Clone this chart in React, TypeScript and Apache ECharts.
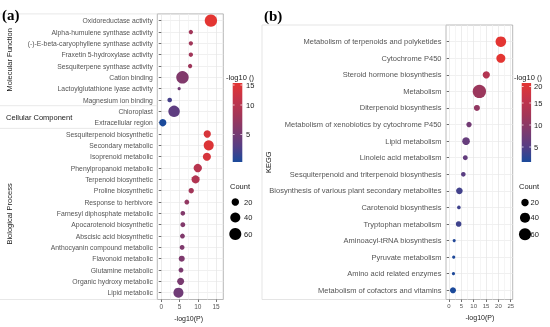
import React, { useEffect, useRef } from "react";
import * as echarts from "echarts";

// ---------- data ----------
const leftCategories = [
  "Oxidoreductase activity",
  "Alpha-humulene synthase activity",
  "(-)-E-beta-caryophyllene synthase activity",
  "Fraxetin 5-hydroxylase activity",
  "Sesquiterpene synthase activity",
  "Cation binding",
  "Lactoylglutathione lyase activity",
  "Magnesium ion binding",
  "Chloroplast",
  "Extracellular region",
  "Sesquiterpenoid biosynthetic",
  "Secondary metabolic",
  "Isoprenoid metabolic",
  "Phenylpropanoid metabolic",
  "Terpenoid biosynthetic",
  "Proline biosynthetic",
  "Response to herbivore",
  "Farnesyl diphosphate metabolic",
  "Apocarotenoid biosynthetic",
  "Abscisic acid biosynthetic",
  "Anthocyanin compound metabolic",
  "Flavonoid metabolic",
  "Glutamine metabolic",
  "Organic hydroxy metabolic",
  "Lipid metabolic",
];
const leftLogP = [13.6, 8.1, 8.1, 8.1, 7.9, 5.8, 4.9, 2.3, 3.5, 0.4, 12.6, 13.0, 12.5, 10.0, 9.4, 8.2, 7.0, 5.9, 5.9, 5.8, 5.7, 5.6, 5.4, 5.3, 4.7];
const leftCount = [63, 5, 5, 5, 5, 65, 2, 6, 54, 19, 19, 40, 24, 26, 24, 9, 7, 6, 7, 7, 7, 12, 7, 17, 40];
const leftGroups = [
  { name: "Molecular Function", from: 0, to: 7, rotate: true },
  { name: "Cellular Component", from: 8, to: 9, rotate: false },
  { name: "Biological Process", from: 10, to: 24, rotate: true },
];

const rightCategories = [
  "Metabolism of terpenoids and polyketides",
  "Cytochrome P450",
  "Steroid hormone biosynthesis",
  "Metabolism",
  "Diterpenoid biosynthesis",
  "Metabolism of xenobiotics by cytochrome P450",
  "Lipid metabolism",
  "Linoleic acid metabolism",
  "Sesquiterpenoid and triterpenoid biosynthesis",
  "Biosynthesis of various plant secondary metabolites",
  "Carotenoid biosynthesis",
  "Tryptophan metabolism",
  "Aminoacyl-tRNA biosynthesis",
  "Pyruvate metabolism",
  "Amino acid related enzymes",
  "Metabolism of cofactors and vitamins",
];
const rightLogP = [21.0, 21.0, 15.1, 12.3, 11.3, 8.1, 6.9, 6.6, 5.8, 4.2, 4.0, 3.9, 2.1, 1.9, 1.8, 1.6];
const rightCount = [45, 31, 19, 75, 12, 9, 21, 7, 6, 15, 3, 10, 2, 2, 2, 12];

const leftColorTicks = ["15", "10", "5"];
const rightColorTicks = ["20", "15", "10", "5"];
const countTicks = [20, 40, 60];

// ---------- style ----------
const FONT = "'Liberation Sans', Arial, sans-serif";
const SERIF = "'Liberation Serif', 'Times New Roman', serif";
const COLORS = ["#1b4a9b", "#573e84", "#7f3a6d", "#a43657", "#c4344a", "#e33532"];
const TXT = "#555555";
const DARK = "#1a1a1a";

const dotSize = (c: number) => 1.2 + 1.4 * Math.sqrt(c);

type Panel = {
  boxL: number; boxR: number; boxT: number; boxB: number;
  rowT: number; rowB: number; xMin: number; xMax: number; gMax: number;
  labelSize: number; tickSize: number;
};
const LP: Panel = { boxL: 157.3, boxR: 223.3, boxT: 13.9, boxB: 299.5, rowT: 20.7, rowB: 292.7, xMin: -1.1, xMax: 17.0, gMax: 15, labelSize: 6.8, tickSize: 6.5 };
const RP: Panel = { boxL: 446, boxR: 512.7, boxT: 25, boxB: 299.5, rowT: 41.7, rowB: 290.3, xMin: -1.22, xMax: 25.8, gMax: 25, labelSize: 7.5, tickSize: 6 };

const px = (p: Panel, v: number) => p.boxL + ((v - p.xMin) / (p.xMax - p.xMin)) * (p.boxR - p.boxL);

function buildPanel(p: Panel, k: number, cats: string[], vals: number[], counts: number[]) {
  const gi = k * 3;
  const grids = [
    { left: p.boxL, top: p.boxT, width: p.boxR - p.boxL, height: p.boxB - p.boxT, show: true, borderColor: "#a6a6a6", borderWidth: 0.8, backgroundColor: "transparent" },
    { left: px(p, 0), top: p.boxT, width: px(p, p.gMax) - px(p, 0), height: p.boxB - p.boxT },
    { left: p.boxL, top: p.rowT, width: p.boxR - p.boxL, height: p.rowB - p.rowT },
  ];
  const xAxes = [
    { type: "value", gridIndex: gi, show: false, min: 0, max: 1 },
    {
      type: "value", gridIndex: gi + 1, min: 0, max: p.gMax, interval: 2.5,
      axisLabel: { show: false }, axisLine: { show: false }, axisTick: { show: false },
      splitLine: { show: true, showMinLine: true, showMaxLine: true, lineStyle: { color: ["#e4e4e4", "#f1f1f1"], width: 0.7 } },
    },
    {
      type: "value", gridIndex: gi + 1, min: 0, max: p.gMax, interval: 5, position: "bottom",
      axisLabel: {
        show: true, margin: 3.5,
        formatter: "{t|{value}}",
        rich: { t: { fontSize: p.tickSize, color: TXT, fontFamily: FONT } },
      },
      axisLine: { show: false },
      axisTick: { show: true, length: 2.5, lineStyle: { color: "#333", width: 0.7 } },
      splitLine: { show: false },
      name: "-log10(P)", nameLocation: "middle", nameGap: 12,
      nameTextStyle: { fontSize: 7, color: DARK, fontFamily: FONT },
    },
    { type: "value", gridIndex: gi + 2, show: false, min: p.xMin, max: p.xMax },
  ];
  const yAxes = [
    { type: "value", gridIndex: gi, show: false, min: 0, max: 1 },
    { type: "value", gridIndex: gi + 1, show: false, min: 0, max: 1 },
    {
      type: "category", gridIndex: gi + 2, data: cats, inverse: true, boundaryGap: false,
      axisLabel: {
        interval: 0, margin: 4.5, color: TXT,
        formatter: "{t|{value}}",
        rich: { t: { fontSize: p.labelSize, color: TXT, fontFamily: FONT } },
      },
      axisTick: { show: true, length: 2.5, lineStyle: { color: "#333", width: 0.7 } },
      axisLine: { show: false },
      splitLine: { show: true, lineStyle: { color: "#e9e9e9", width: 0.7 } },
    },
  ];
  const series = {
    type: "scatter",
    xAxisIndex: k * 4 + 3,
    yAxisIndex: gi + 2,
    symbol: "circle",
    symbolSize: (d: number[]) => dotSize(d[2]),
    data: vals.map((v, i) => [v, cats[i], counts[i]]),
    itemStyle: { borderWidth: 0, opacity: 1 },
    z: 3,
  };
  const vmap = {
    type: "continuous", show: false, seriesIndex: k, dimension: 0,
    min: Math.min(...vals), max: Math.max(...vals),
    inRange: { color: COLORS },
  };
  return { grids, xAxes, yAxes, series, vmap };
}

function text(x: number, y: number, t: string, size: number, opts: any = {}) {
  return {
    type: "text", x, y, rotation: opts.rotation || 0, z: 10,
    style: {
      text: t, fontSize: size, fontFamily: opts.family || FONT, fontWeight: opts.weight || "normal",
      fill: opts.fill || DARK,
      align: opts.align || "left", textAlign: opts.align || "left",
      verticalAlign: "middle", textVerticalAlign: "middle",
    },
  };
}

function colorBar(x: number, y: number, w: number, h: number, title: string, titleX: number, labels: string[], labelYs: number[], labelX: number) {
  const stops = COLORS.slice().reverse().map((c, i) => ({ offset: i / (COLORS.length - 1), color: c }));
  const els: any[] = [
    text(titleX, 77, title, 7.5),
    { type: "rect", shape: { x, y, width: w, height: h }, style: { fill: new echarts.graphic.LinearGradient(0, 0, 0, 1, stops) }, z: 10 },
  ];
  labels.forEach((l, i) => {
    els.push(text(labelX, labelYs[i], l, 7.5));
    els.push({ type: "line", shape: { x1: x, y1: labelYs[i], x2: x + w * 0.2, y2: labelYs[i] }, style: { stroke: "#fff", lineWidth: 0.7 }, z: 11 });
    els.push({ type: "line", shape: { x1: x + w * 0.8, y1: labelYs[i], x2: x + w, y2: labelYs[i] }, style: { stroke: "#fff", lineWidth: 0.7 }, z: 11 });
  });
  return els;
}

function countLegend(titleX: number, cx: number, ys: number[], labelX: number) {
  const els: any[] = [text(titleX, 186.5, "Count", 7.5)];
  countTicks.forEach((c, i) => {
    els.push({ type: "circle", shape: { cx, cy: ys[i], r: dotSize(c) / 2 }, style: { fill: "#000" }, z: 10 });
    els.push(text(labelX, ys[i], String(c), 7.5));
  });
  return els;
}

export default function App() {
  const ref = useRef<HTMLDivElement>(null);
  useEffect(() => {
    if (!ref.current) return;
    const chart = echarts.init(ref.current, undefined, { renderer: "svg" });
    const a = buildPanel(LP, 0, leftCategories, leftLogP, leftCount);
    const b = buildPanel(RP, 1, rightCategories, rightLogP, rightCount);

    const step = (LP.rowB - LP.rowT) / (leftCategories.length - 1);
    const rowY = (i: number) => LP.rowT + i * step;
    const gfx: any[] = [];
    gfx.push(text(2, 15, "(a)", 15, { family: SERIF, weight: "bold", fill: "#000" }));
    gfx.push(text(264, 16, "(b)", 15, { family: SERIF, weight: "bold", fill: "#000" }));
    // left facet separators
    const seps = [LP.boxT, ...leftGroups.slice(0, -1).map((g) => rowY(g.to) + step / 2), LP.boxB];
    seps.forEach((y) => gfx.push({ type: "line", shape: { x1: 0, y1: y, x2: LP.boxL, y2: y }, style: { stroke: "#e2e2e2", lineWidth: 0.8 }, z: 1 }));
    leftGroups.forEach((g, i) => {
      const top = i === 0 ? LP.boxT : rowY(g.from) - step / 2;
      const bot = i === leftGroups.length - 1 ? LP.boxB : rowY(g.to) + step / 2;
      const cy = (top + bot) / 2;
      if (g.rotate) gfx.push(text(9, cy, g.name, 7.5, { rotation: Math.PI / 2, align: "center" }));
      else gfx.push(text(6, cy, g.name, 7.5));
    });
    // right facet strip box
    gfx.push({ type: "rect", shape: { x: 262, y: RP.boxT, width: RP.boxL - 262, height: RP.boxB - RP.boxT }, style: { fill: "none", stroke: "#dedede", lineWidth: 0.8 }, z: 1 });
    gfx.push(text(268, (RP.boxT + RP.boxB) / 2, "KEGG", 7.5, { rotation: Math.PI / 2, align: "center" }));
    // legends
    gfx.push(...colorBar(232.7, 83, 9.6, 79, "-log10 ()", 226, leftColorTicks, [85, 105, 134.5], 246));
    gfx.push(...colorBar(521.7, 83, 9.4, 79, "-log10 ()", 514, rightColorTicks, [86.5, 103, 125, 147], 534));
    gfx.push(...countLegend(230, 235.3, [202, 217.5, 234], 244));
    gfx.push(...countLegend(519, 525, [202.5, 217.7, 234.3], 530.5));

    chart.setOption({
      animation: false,
      backgroundColor: "#fff",
      textStyle: { fontFamily: FONT },
      grid: [...a.grids, ...b.grids],
      xAxis: [...a.xAxes, ...b.xAxes],
      yAxis: [...a.yAxes, ...b.yAxes],
      visualMap: [a.vmap, b.vmap],
      series: [a.series, b.series],
      graphic: { elements: gfx },
    });
    return () => chart.dispose();
  }, []);
  return (
    <div
      ref={ref}
      style={{ position: "absolute", left: 0, top: 0, width: 550, height: 327, opacity: 0.999, willChange: "transform" }}
    />
  );
}
